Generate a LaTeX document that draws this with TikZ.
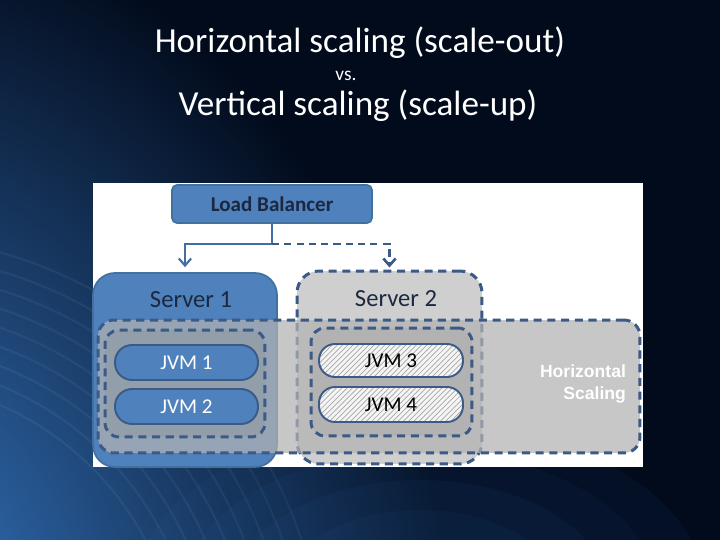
\documentclass[tikz,border=0pt]{standalone}
\usepackage{fontspec}
\setmainfont{Carlito}
\newfontfamily\arialfont{Liberation Sans}
\usetikzlibrary{arrows.meta,patterns}
\definecolor{bgnavy}{HTML}{020B1C}
\definecolor{swirl}{HTML}{3A80D0}
\definecolor{srvblue}{HTML}{4F81BD}
\definecolor{srvedge}{HTML}{42709F}
\definecolor{dashblue}{HTML}{3B5A86}
\definecolor{txtnavy}{HTML}{1C2740}
\definecolor{srvgrey}{HTML}{CFCFCF}

\begin{document}
\begin{tikzpicture}[x=0.02cm,y=-0.02cm,line width=0.8pt,>={Straight Barb[length=4pt,width=7pt]},
  solidbox/.style={draw=srvedge,fill=srvblue,line width=1pt},
  dashbox/.style={draw=dashblue,line width=1.7pt,dash pattern=on 4.6pt off 3.2pt},
  jvmsolid/.style={draw=dashblue,fill=srvblue,line width=1.1pt,rounded corners=0.34cm,
    text=white,font=\fontsize{12}{14}\selectfont},
  jvmhatch/.style={draw=dashblue,line width=1.1pt,rounded corners=0.32cm,
    preaction={fill=white!92!gray},pattern=north east lines,pattern color=gray!70,
    text=black,font=\fontsize{12}{14}\selectfont},
  link/.style={srvblue!85!black,line width=1.2pt},
  dlink/.style={dashblue,line width=1.5pt,dash pattern=on 4pt off 3pt}]
% ================ backdrop ================
\fill[bgnavy] (0,0) rectangle (720,540);
\useasboundingbox (0,0) rectangle (720,540);
\begin{scope}
\clip (0,0) rectangle (720,540);
\shade[inner color=swirl,outer color=bgnavy] (-150,660) ellipse (600 and 760);
\foreach \r in {300,318,...,460}{\draw[white,opacity=0.05,line width=1.2pt] (-120,680) circle (\r);}
\foreach \r in {60,90,...,180}{\fill[swirl,opacity=0.05] (420,600) ellipse ({1.6*\r} and \r);}
\end{scope}
% ================ title ================
\node[text=white,font=\fontsize{20}{24}\selectfont] (ttlA) at (360,43) {Horizontal scaling (scale-out)};
\node[text=white,font=\fontsize{11}{13}\selectfont] (ttlB) at (346,76) {vs.};
\node[text=white,font=\fontsize{20}{24}\selectfont] (ttlC) at (358,106) {Vertical scaling (scale-up)};
% ================ white panel ================
\fill[white] (93,183) rectangle (643,467);
% load balancer
\node[solidbox,rounded corners=0.1cm,minimum width=4cm,minimum height=0.76cm,
  text=txtnavy,font=\bfseries\fontsize{12}{14}\selectfont] (lb) at (272,204) {Load Balancer};
% servers
\node[solidbox,rounded corners=0.44cm,minimum width=3.68cm,minimum height=3.88cm] (srvA) at (185,370) {};
\node[dashbox,fill=srvgrey,rounded corners=0.44cm,minimum width=3.7cm,minimum height=3.86cm] (srvB) at (389.5,367.5) {};
\node[text=txtnavy,font=\fontsize{14}{16}\selectfont] (srvAlab) at (191,300) {Server 1};
\node[text=txtnavy,font=\fontsize{14}{16}\selectfont] (srvBlab) at (396,299) {Server 2};
% horizontal scaling band
\node[dashbox,fill=gray!60,fill opacity=0.72,rounded corners=0.32cm,minimum width=10.84cm,minimum height=2.66cm] (hscale) at (369,386.5) {};
\node[text=white,align=right,font=\arialfont\bfseries\fontsize{10}{12}\selectfont] (hlab) at (583,384) {Horizontal\\Scaling};
% inner groups
\node[dashbox,fill=gray!90,fill opacity=0.22,rounded corners=0.28cm,minimum width=3.2cm,minimum height=2.14cm] (grpA) at (185,383.5) {};
\node[dashbox,fill=gray!80,fill opacity=0.22,rounded corners=0.28cm,minimum width=3.22cm,minimum height=2.16cm] (grpB) at (391.5,382) {};
% JVMs
\node[jvmsolid,minimum width=2.86cm,minimum height=0.7cm] (jvmA) at (186.5,362.5) {JVM 1};
\node[jvmsolid,minimum width=2.86cm,minimum height=0.7cm] (jvmB) at (186.5,406.5) {JVM 2};
\node[jvmhatch,minimum width=2.88cm,minimum height=0.66cm] (jvmC) at (391,360.5) {JVM 3};
\node[jvmhatch,minimum width=2.88cm,minimum height=0.7cm] (jvmD) at (391,404.5) {JVM 4};
% connectors
\coordinate (fork) at (272,244);
\draw[link] (lb.south) -- (fork);
\draw[link,->,shorten >=0.1cm] (fork) -| (srvA.north);
\draw[dlink,->,shorten >=0.04cm] (fork) -| (srvB.north);
\end{tikzpicture}
\end{document}
